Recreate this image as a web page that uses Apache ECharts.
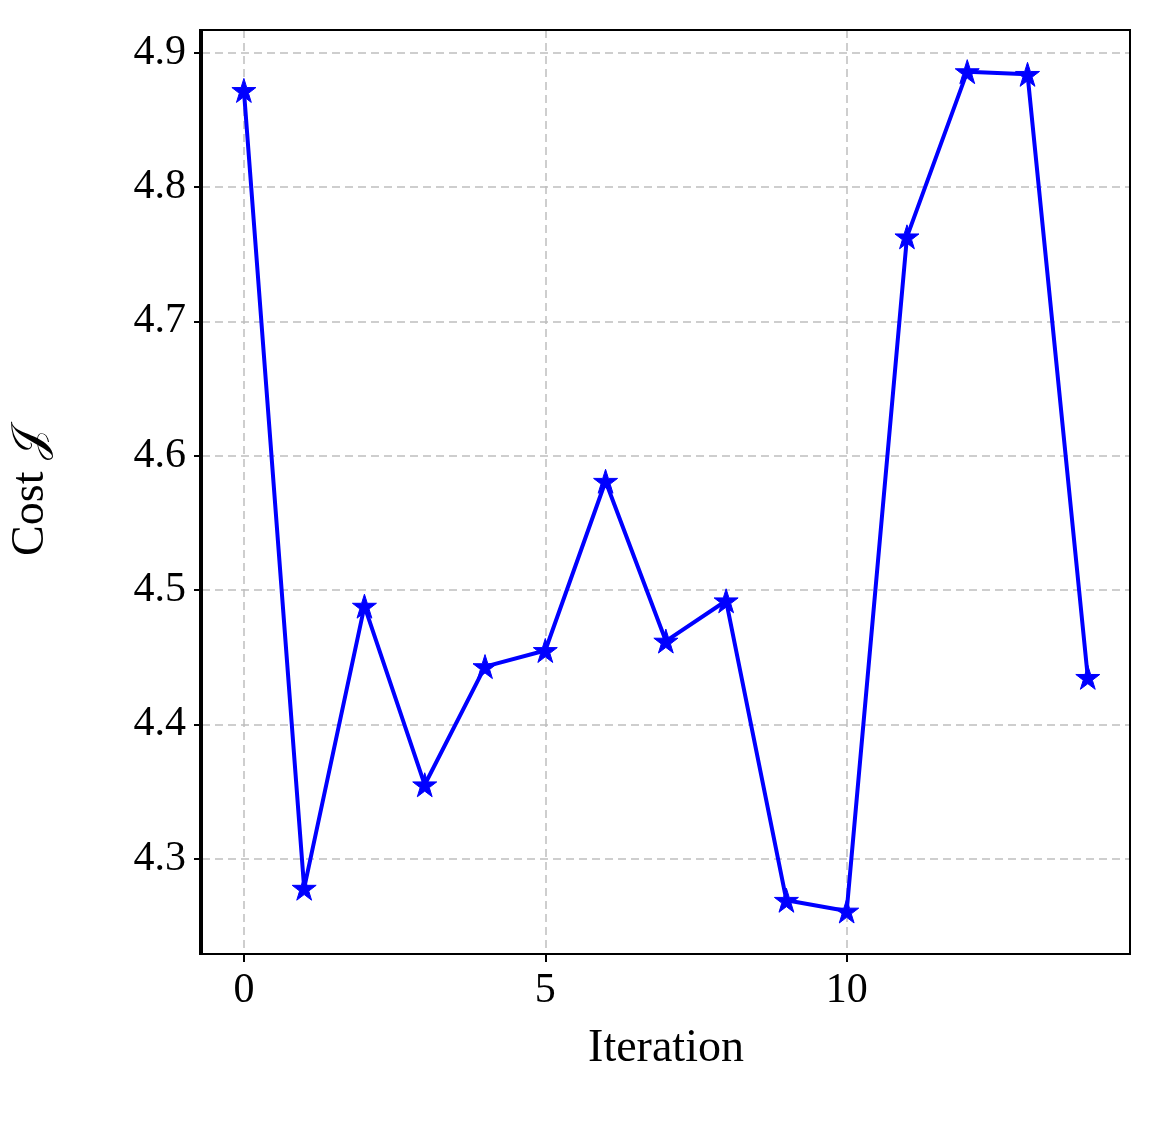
<!DOCTYPE html>
<html>
<head>
<meta charset="utf-8">
<script src="https://cdn.jsdelivr.net/npm/echarts@6/dist/echarts.min.js"></script>
<style>html,body{margin:0;padding:0;background:#fff}#chart{width:1160px;height:1133px}</style>
</head>
<body>
<div id="chart"></div>
<script>
var iterations = [0, 1, 2, 3, 4, 5, 6, 7, 8, 9, 10, 11, 12, 13, 14];
var cost = [4.872, 4.278, 4.488, 4.355, 4.443, 4.455, 4.581, 4.462, 4.492, 4.269, 4.261, 4.763, 4.886, 4.884, 4.435];
var xTicks = [0, 5, 10];
var yTicks = [4.3, 4.4, 4.5, 4.6, 4.7, 4.8, 4.9];

var star = 'path://M50,0 L61.8,36.2 L100,36.2 L69.1,58.8 L80.9,95.1 L50,72.7 L19.1,95.1 L30.9,58.8 L0,36.2 L38.2,36.2 Z';
var font = 'Liberation Serif';
var grid = {lineStyle: {color: '#bfbfbf', type: [8, 5], width: 1.5}};

var data = [];
for (var i = 0; i < iterations.length; i++) data.push([iterations[i], cost[i]]);

echarts.init(document.getElementById('chart')).setOption({
  animation: false,
  grid: {left: 200, top: 30, width: 930, height: 924},
  xAxis: {
    type: 'value', min: -0.695, max: 14.7,
    name: 'Iteration', nameLocation: 'middle', nameGap: 72,
    nameTextStyle: {fontFamily: font, fontSize: 46, color: '#000'},
    axisLine: {onZero: false, lineStyle: {color: '#000', width: 2}},
    axisTick: {show: true, customValues: xTicks, length: 8, lineStyle: {color: '#000', width: 2}},
    axisLabel: {customValues: xTicks, fontFamily: font, fontSize: 42, color: '#000', margin: 16},
    splitLine: Object.assign({show: true}, grid)
  },
  yAxis: {
    type: 'value', min: 4.229, max: 4.917,
    name: 'Cost 𝒥', nameLocation: 'middle', nameGap: 148,
    nameTextStyle: {fontFamily: font, fontSize: 46, color: '#000'},
    axisLine: {show: true, onZero: false, lineStyle: {color: '#000', width: 2}},
    axisTick: {show: true, customValues: yTicks, length: 8, lineStyle: {color: '#000', width: 2}},
    axisLabel: {customValues: yTicks, fontFamily: font, fontSize: 42, color: '#000', margin: 16,
      formatter: function (v) { return v.toFixed(1); }},
    splitLine: Object.assign({show: true}, grid)
  },
  series: [{
    type: 'line', data: data,
    symbol: star, symbolSize: 24,
    lineStyle: {color: '#0000ff', width: 4},
    itemStyle: {color: '#0000ff', borderColor: '#0000ff', borderWidth: 1}
  }],
  graphic: [{type: 'rect', shape: {x: 200, y: 30, width: 930, height: 924},
    style: {fill: 'none', stroke: '#000', lineWidth: 2}, z: 100}]
});
</script>
</body>
</html>
